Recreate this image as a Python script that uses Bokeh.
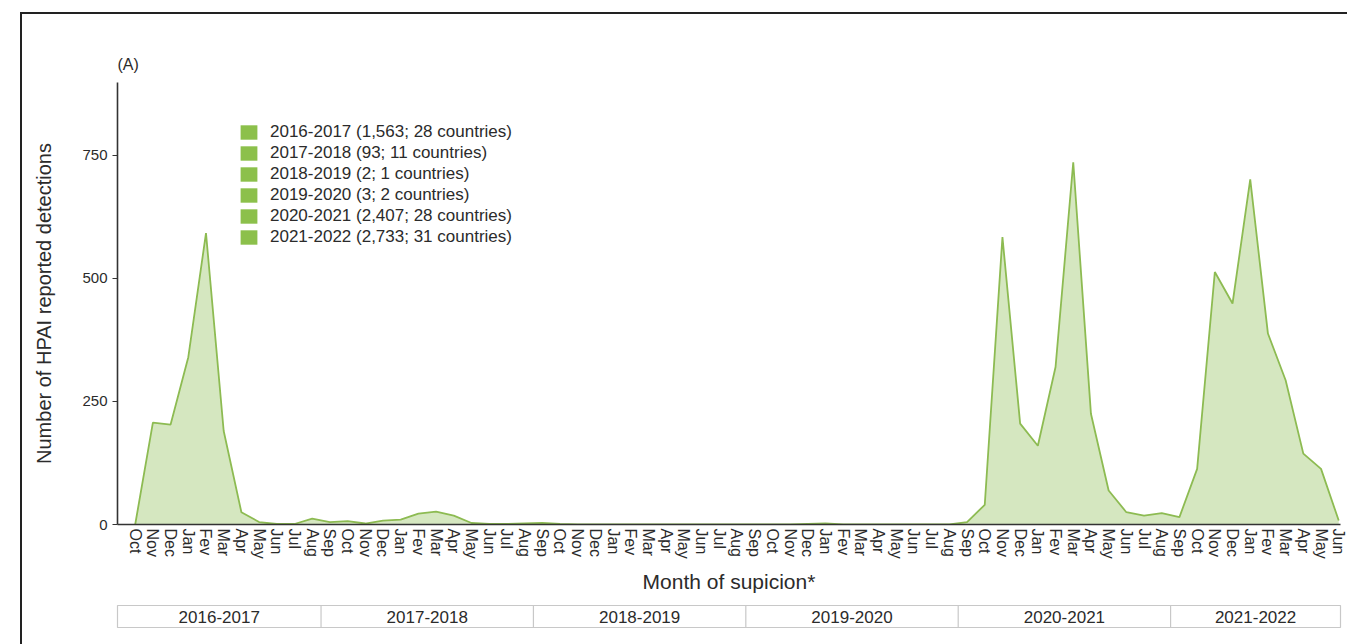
from bokeh.plotting import figure
from bokeh.models import Range1d, FixedTicker, Legend, LegendItem, ColumnDataSource
from bokeh.layouts import column
from bokeh.embed import file_html
from bokeh.resources import INLINE
from bokeh.core.properties import value

# ---------------- data ----------------
month_labels = [
    "Oct", "Nov", "Dec", "Jan", "Fev", "Mar", "Apr", "May", "Jun", "Jul", "Aug", "Sep",
    "Oct", "Nov", "Dec", "Jan", "Fev", "Mar", "Apr", "May", "Jun", "Jul", "Aug", "Sep",
    "Oct", "Nov", "Dec", "Jan", "Fev", "Mar", "Apr", "May", "Jun", "Jul", "Aug", "Sep",
    "Oct", "Nov", "Dec", "Jan", "Fev", "Mar", "Apr", "May", "Jun", "Jul", "Aug", "Sep",
    "Oct", "Nov", "Dec", "Jan", "Fev", "Mar", "Apr", "May", "Jun", "Jul", "Aug", "Sep",
    "Oct", "Nov", "Dec", "Jan", "Fev", "Mar", "Apr", "May", "Jun",
]
detections = [
    0, 207, 203, 340, 592, 190, 25, 5, 1, 1, 12, 5,
    7, 2, 8, 10, 22, 26, 18, 3, 1, 1, 2, 3,
    1, 0, 0, 0, 0, 0, 0, 0, 0, 0, 0, 0,
    0, 0, 1, 2, 0, 0, 0, 0, 0, 0, 0, 5,
    40, 584, 205, 160, 320, 736, 225, 69, 25, 18, 23, 15,
    113, 513, 449, 701, 388, 293, 144, 113, 8,
]
seasons = ["2016-2017", "2017-2018", "2018-2019", "2019-2020", "2020-2021", "2021-2022"]
season_totals = [1563, 93, 2, 3, 2407, 2733]
season_countries = [28, 11, 1, 2, 28, 31]
season_start_month = [0, 11, 23, 35, 47, 59]   # index of first month of each season box
y_ticks = [0, 250, 500, 750]

# ---------------- styling ----------------
FONT = "Liberation Sans"
TXT = "#2b2b2b"
FILL = "#d5e7c0"
LINE = "#8dbb52"
LEG = "#8cc04b"

x_idx = list(range(len(detections)))
x_start, x_end = -1.0, 68.1

lefts = [x_start] + [m - 0.5 for m in season_start_month[1:]]
rights = lefts[1:] + [x_end]
centers = [(a + b) / 2 for a, b in zip(lefts, rights)]

W = 1325
p = figure(width=W, height=582, x_range=Range1d(x_start, x_end), y_range=Range1d(0, 898),
           output_backend="svg", toolbar_location=None, title="(A)",
           min_border_left=95, min_border_right=7, min_border_top=68, min_border_bottom=72)
p.title.text_font = FONT
p.title.text_font_size = "16px"
p.title.text_font_style = "normal"
p.title.text_color = TXT
p.title.standoff = 20
p.outline_line_color = None
p.xgrid.visible = False
p.ygrid.visible = False
p.background_fill_color = "white"

src = ColumnDataSource(dict(x=x_idx, y=detections))
p.varea(x="x", y1=0, y2="y", source=src, fill_color=FILL)
p.line(x="x", y="y", source=src, line_color=LINE, line_width=1.8)

# axes
xa = p.xaxis[0]
xa.ticker = FixedTicker(ticks=x_idx)
xa.major_label_overrides = {i: m for i, m in zip(x_idx, month_labels)}
xa.major_label_orientation = "vertical"
xa.major_label_text_font = FONT
xa.major_label_text_font_size = "16px"
xa.major_label_text_color = TXT
xa.major_label_standoff = 4
xa.major_tick_out = 0
xa.major_tick_in = 0
xa.major_tick_line_color = None
xa.minor_tick_line_color = None
xa.axis_line_color = "#333333"
xa.axis_line_width = 1.6
xa.axis_label = "Month of supicion*"
xa.axis_label_text_font = FONT
xa.axis_label_text_font_size = "21px"
xa.axis_label_text_font_style = "normal"
xa.axis_label_text_color = TXT
xa.axis_label_standoff = 8

ya = p.yaxis[0]
ya.ticker = FixedTicker(ticks=y_ticks)
ya.major_label_text_font = FONT
ya.major_label_text_font_size = "15px"
ya.major_label_text_color = TXT
ya.major_tick_out = 5
ya.major_tick_in = 0
ya.major_tick_line_color = "#333333"
ya.minor_tick_line_color = None
ya.axis_line_color = "#333333"
ya.axis_line_width = 1.6
ya.axis_label = "Number of HPAI reported detections"
ya.axis_label_text_font = FONT
ya.axis_label_text_font_size = "20px"
ya.axis_label_text_font_style = "normal"
ya.axis_label_text_color = TXT
ya.axis_label_standoff = 24

# legend (one item per season; zero-height season spans carry the legend swatch)
items = []
for s, t, c, a, b in zip(seasons, season_totals, season_countries, lefts, rights):
    r = p.quad(left=[a], right=[b], top=[0], bottom=[0], fill_color=LEG, line_color=None)
    items.append(LegendItem(label=f"{s} ({t:,}; {c} countries)", renderers=[r]))
legend = Legend(items=items, location=(121, 277), glyph_width=21, glyph_height=18,
                label_height=17, spacing=1, label_standoff=11, padding=0, margin=0,
                label_text_font=FONT, label_text_font_size="17px", label_text_color=TXT,
                border_line_color=None, background_fill_alpha=0)
p.add_layout(legend, "center")

# ---------------- season strip ----------------
p2 = figure(width=W, height=48, x_range=p.x_range, y_range=Range1d(0, 1),
            output_backend="svg", toolbar_location=None, x_axis_type=None, y_axis_type=None,
            min_border_left=95, min_border_right=7, min_border_top=9, min_border_bottom=17)
p2.xgrid.visible = False
p2.ygrid.visible = False
p2.outline_line_color = "#c8c8c8"
p2.outline_line_width = 1.2
p2.segment(x0=lefts[1:], x1=lefts[1:], y0=0, y1=1, line_color="#c8c8c8", line_width=1.2)
p2.text(x=centers, y=[0.5] * len(centers), text=seasons, text_align="center",
        text_baseline="middle", text_font=value(FONT), text_font_size="17px", text_color=TXT)

layout = column(p, p2, styles={"border-left": "2px solid #222", "border-top": "2px solid #222",
                               "margin-left": "20px", "margin-top": "12px"})

open("out.html", "w").write(file_html(layout, INLINE))
